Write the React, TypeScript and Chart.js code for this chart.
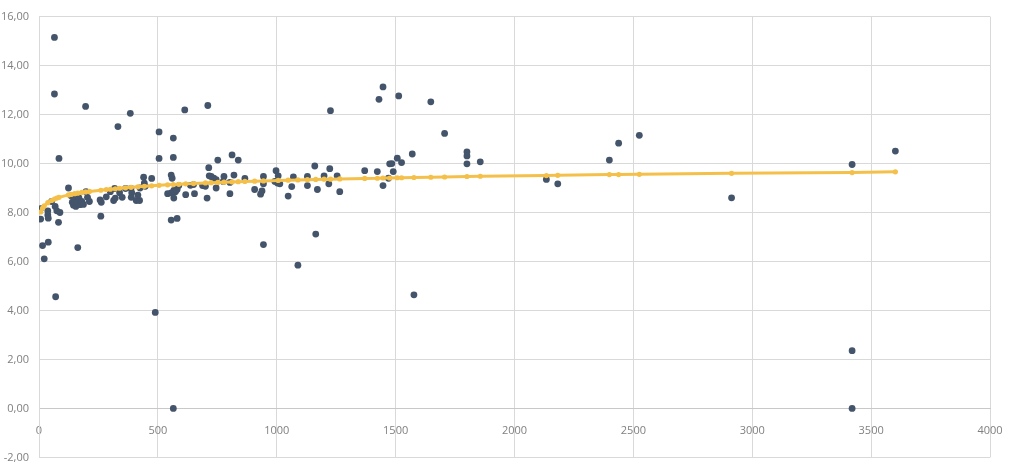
import { useEffect, useRef } from "react";
import { Chart, registerables } from "chart.js";

Chart.register(...registerables);

// measured points (x, y)
const pointX = [
  65, 65, 84, 7, 7, 15, 22, 39, 70, 37, 37, 39, 53, 68, 75, 82, 88, 124, 135, 140,
  145, 150, 155, 160, 168, 172, 180, 187, 163, 196, 198, 204, 212, 260, 257, 262, 283, 300, 314, 321,
  318, 332, 339, 350, 364, 384, 387, 390, 388, 409, 423, 416, 425, 440, 443, 447, 474, 489, 505, 505,
  565, 565, 556, 560, 541, 556, 567, 574, 567, 581, 556, 581, 565, 588, 613, 617, 637, 650, 654, 688,
  700, 707, 710, 714, 716, 724, 735, 745, 745, 752, 775, 778, 803, 803, 812, 820, 838, 866, 907, 932,
  938, 944, 944, 944, 997, 992, 1006, 1003, 1013, 1048, 1063, 1070, 1089, 1129, 1129, 1160, 1164, 1171, 1199, 1219,
  1223, 1226, 1254, 1265, 1370, 1423, 1430, 1447, 1447, 1470, 1475, 1484, 1490, 1507, 1513, 1525, 1570, 1577, 1648, 1706,
  1800, 1800, 1800, 1856, 2134, 2182, 2399, 2438, 2525, 2913, 3420, 3420, 3420, 3602,
];
const pointY = [
  15.15, 12.84, 10.21, 8.16, 7.73, 6.65, 6.11, 6.79, 4.56, 8.07, 7.9, 7.77, 8.45, 8.25, 8.07, 7.6, 8.0, 9.0, 8.68, 8.42,
  8.3, 8.55, 8.25, 8.4, 8.6, 8.32, 8.45, 8.33, 6.57, 12.33, 8.85, 8.62, 8.45, 7.85, 8.51, 8.42, 8.64, 8.85, 8.49, 8.59,
  8.98, 11.51, 8.81, 8.62, 8.98, 12.05, 8.98, 8.81, 8.62, 8.49, 8.49, 8.71, 9.0, 9.44, 9.2, 9.07, 9.39, 3.92, 11.29, 10.21,
  11.04, 10.25, 9.53, 9.4, 8.77, 8.8, 8.9, 8.85, 8.59, 8.94, 7.69, 7.76, 0, 9.1, 12.19, 8.73, 9.11, 9.14, 8.77, 9.1,
  9.07, 8.59, 12.37, 9.83, 9.5, 9.47, 9.4, 9.34, 9.0, 10.14, 9.27, 9.47, 8.77, 9.23, 10.35, 9.53, 10.14, 9.39, 8.94, 8.75,
  8.88, 6.69, 9.47, 9.17, 9.71, 9.27, 9.5, 9.2, 9.17, 8.67, 9.06, 9.45, 5.85, 9.47, 9.1, 9.9, 7.12, 8.94, 9.5, 9.17,
  9.79, 12.16, 9.5, 8.85, 9.71, 9.67, 12.62, 13.13, 9.1, 9.4, 9.99, 10.0, 9.67, 10.22, 12.76, 10.04, 10.39, 4.64, 12.52, 11.23,
  10.48, 10.31, 9.99, 10.07, 9.35, 9.17, 10.14, 10.83, 11.15, 8.6, 9.96, 2.36, 0, 10.51,
];

// fitted values (yellow series)
const fitX = [
  7, 15, 22, 37, 53, 65, 75, 84, 124, 135, 150, 163, 180, 196, 212, 260, 283, 300, 321, 339,
  364, 387, 416, 443, 474, 505, 541, 565, 588, 617, 650, 700, 724, 752, 778, 812, 838, 866, 907, 944,
  1006, 1048, 1089, 1129, 1164, 1199, 1226, 1265, 1370, 1423, 1447, 1475, 1507, 1525, 1577, 1648, 1706, 1800, 1856, 2134,
  2182, 2399, 2438, 2525, 2913, 3420, 3602,
];
const fitY = [
  8.02, 8.18, 8.27, 8.4, 8.49, 8.55, 8.59, 8.62, 8.72, 8.74, 8.77, 8.79, 8.82, 8.84, 8.86, 8.91, 8.94, 8.95, 8.97, 8.99,
  9.01, 9.03, 9.05, 9.07, 9.09, 9.11, 9.13, 9.14, 9.15, 9.17, 9.18, 9.21, 9.22, 9.23, 9.24, 9.25, 9.26, 9.27, 9.28, 9.29,
  9.31, 9.32, 9.33, 9.34, 9.35, 9.36, 9.36, 9.37, 9.39, 9.4, 9.41, 9.41, 9.42, 9.42, 9.43, 9.44, 9.45, 9.47, 9.48, 9.51,
  9.52, 9.55, 9.55, 9.56, 9.6, 9.63, 9.66,
];

const GRID = "#d9d9d9";
const TICK = "#808080";

export default function App() {
  const canvasRef = useRef<HTMLCanvasElement>(null);

  useEffect(() => {
    document.body.style.margin = "0";
    const ctx = canvasRef.current?.getContext("2d");
    if (!ctx) return;

    const chart = new Chart(ctx, {
      type: "scatter",
      data: {
        datasets: [
          {
            label: "fit",
            data: fitX.map((x, i) => ({ x, y: fitY[i] })),
            showLine: true,
            borderColor: "#f4c04a",
            backgroundColor: "#f4c04a",
            borderWidth: 3,
            pointRadius: 2.6,
            pointBorderWidth: 0,
          },
          {
            label: "data",
            data: pointX.map((x, i) => ({ x, y: pointY[i] })),
            backgroundColor: "#44546a",
            borderColor: "#44546a",
            pointRadius: 3.4,
            pointBorderWidth: 0,
          },
        ],
      },
      options: {
        responsive: true,
        maintainAspectRatio: false,
        animation: false,
        layout: { padding: { left: 0, right: 34, top: 7, bottom: 6 } },
        plugins: { legend: { display: false }, tooltip: { enabled: false } },
        scales: {
          x: {
            type: "linear",
            position: { y: 0 },
            min: 0,
            max: 4000,
            ticks: {
              stepSize: 500,
              color: TICK,
              padding: 16,
              font: { family: "Open Sans", size: 11 },
              callback: (v) => String(v),
            },
            grid: { color: GRID, drawTicks: false },
            border: { color: "#c8c8c8" },
            afterFit: (scale) => {
              scale.height = 0;
            },
          },
          y: {
            min: -2,
            max: 16,
            ticks: {
              stepSize: 2,
              color: TICK,
              padding: 10,
              font: { family: "Open Sans", size: 11 },
              callback: (v) => Number(v).toFixed(2).replace(".", ","),
            },
            grid: { color: GRID, drawTicks: false },
            border: { color: GRID },
            afterFit: (scale) => {
              scale.width = 39;
            },
          },
        },
      },
    });

    return () => {
      chart.destroy();
    };
  }, []);

  return (
    <div style={{ width: 1024, height: 474, position: "relative" }}>
      <canvas ref={canvasRef} />
    </div>
  );
}
